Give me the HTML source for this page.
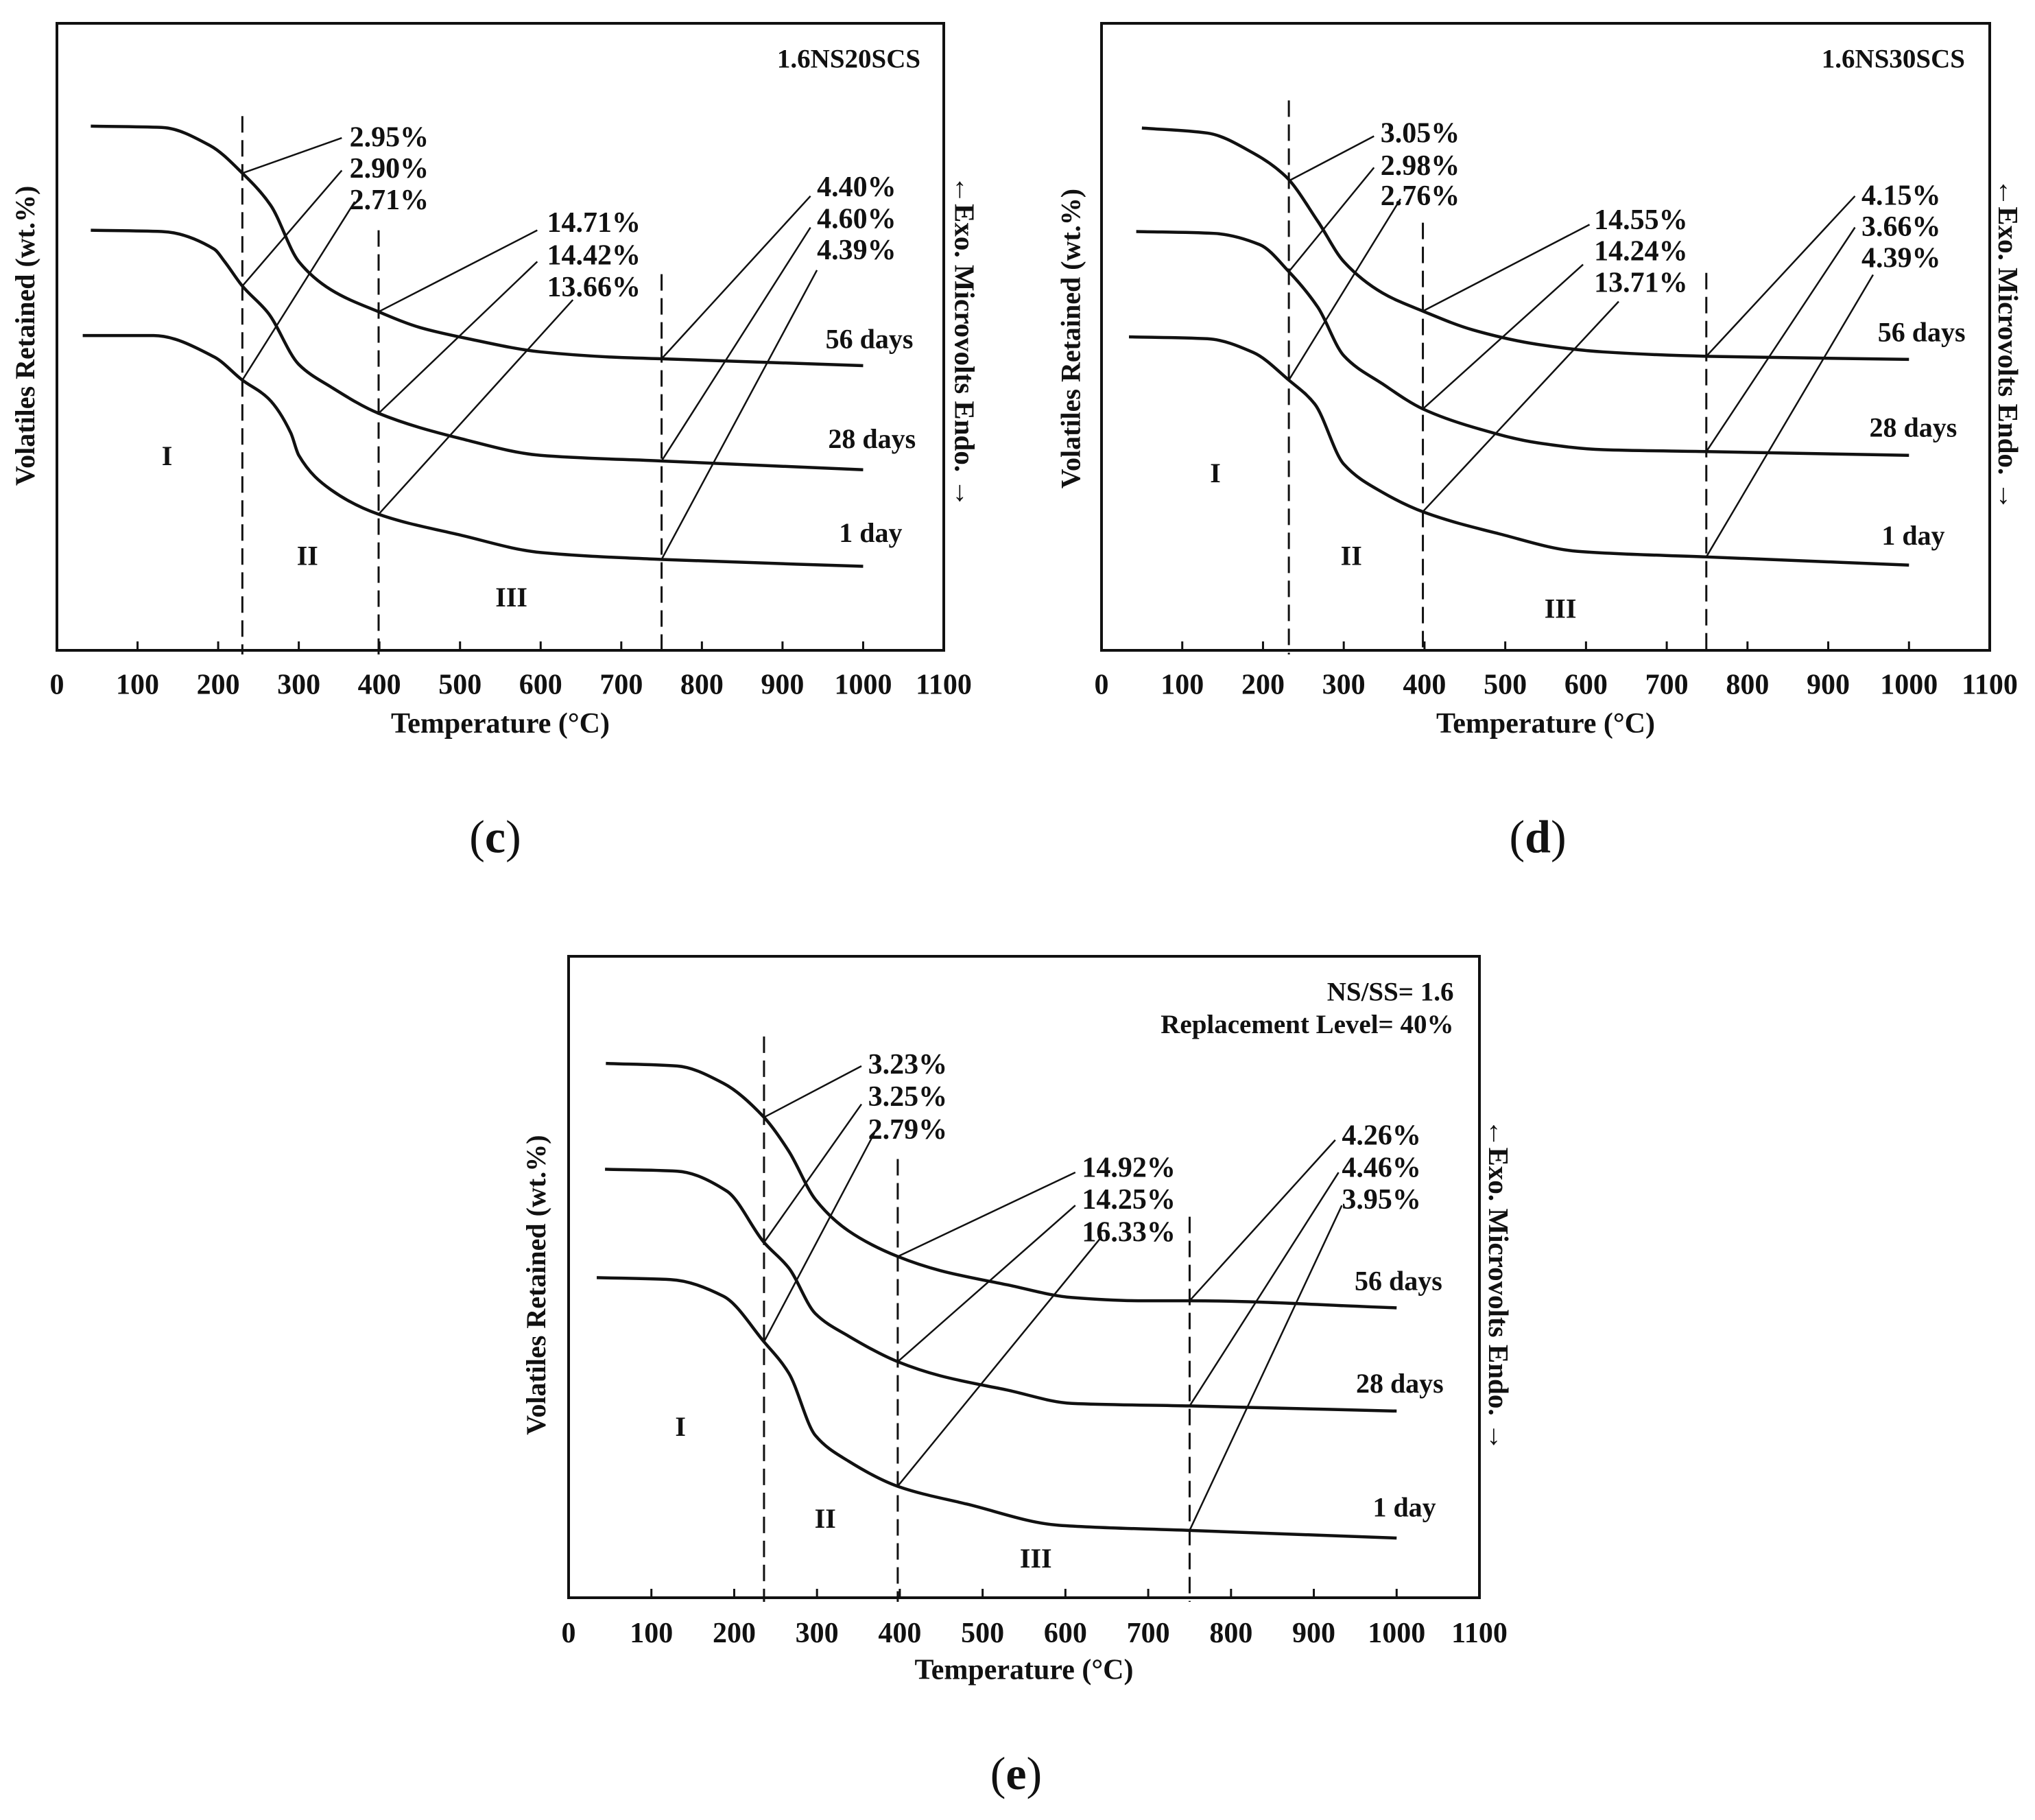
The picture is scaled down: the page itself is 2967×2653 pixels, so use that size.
<!DOCTYPE html>
<html><head><meta charset="utf-8"><style>
html,body{margin:0;padding:0;background:#fff;}
svg{display:block;}
text{font-family:"Liberation Serif",serif;font-weight:bold;fill:#111;}
</style></head><body>
<svg id="fig" width="2967" height="2653" viewBox="0 0 2967 2653" xmlns="http://www.w3.org/2000/svg"></svg>
<script>
// ---- Data (temperature in °C, signal as % of plot height) ----
const xTicks = [0,100,200,300,400,500,600,700,800,900,1000,1100];
const seriesNames = ["56 days","28 days","1 day"];
const boundaryTemps = {c:[230,399,750], d:[232,398,749], e:[236,397.5,750]};

const c_T56 = [42,130,190,230,265,300,340,399,450,510,600,700,750,1000];
const c_V56 = [83.6,83.4,80.5,76.1,71.0,62.0,57.5,54.0,51.5,49.7,47.6,46.7,46.5,45.4];
const c_T28 = [42,130,195,208,230,262,300,340,399,500,600,750,1000];
const c_V28 = [67.0,66.8,64.0,62.0,58.1,53.8,45.6,42.0,37.8,33.8,31.1,30.2,28.8];
const c_T1  = [32,120,195,230,262,290,300,340,399,500,600,750,1000];
const c_V1  = [50.2,50.2,46.8,43.1,40.2,34.7,31.1,25.6,21.7,18.4,15.6,14.5,13.4];

const d_T56 = [50,131,188,228,268,300,348,398,460,540,621,749,1000];
const d_V56 = [83.3,82.5,79.3,75.6,68.4,62.0,57.0,54.1,51.1,48.8,47.6,46.9,46.4];
const d_T28 = [43,139,196,232,268,300,348,398,460,540,621,749,1000];
const d_V28 = [66.8,66.5,64.7,60.4,54.7,47.0,42.5,38.5,35.6,33.1,32.0,31.7,31.1];
const d_T1  = [34,131,188,232,264,300,348,400,492,589,749,1000];
const d_V1  = [50.0,49.7,47.5,43.1,39.3,29.7,25.2,22.0,18.6,15.8,14.9,13.6];

const e_T56 = [45,131,187,236,266,298,338,397.5,449,529,608,688,750,1000];
const e_V56 = [83.3,82.9,80.2,74.9,69.6,62.1,57.2,53.2,51.0,48.8,46.8,46.3,46.3,45.2];
const e_T28 = [44,131,191,236,266,298,338,397.5,449,529,608,750,1000];
const e_V28 = [66.8,66.5,63.4,55.4,51.4,44.3,40.8,36.8,34.6,32.4,30.3,29.9,29.1];
const e_T1  = [34,123,187,236,266,298,338,399,481,592,750,1000];
const e_V1  = [49.9,49.6,47.0,39.9,35.0,25.3,21.3,17.3,14.6,11.3,10.5,9.3];

const c_pct = [["2.95%","2.90%","2.71%"],["14.71%","14.42%","13.66%"],["4.40%","4.60%","4.39%"]];
const d_pct = [["3.05%","2.98%","2.76%"],["14.55%","14.24%","13.71%"],["4.15%","3.66%","4.39%"]];
const e_pct = [["3.23%","3.25%","2.79%"],["14.92%","14.25%","16.33%"],["4.26%","4.46%","3.95%"]];

const NS="http://www.w3.org/2000/svg";
const fig=document.getElementById('fig');
function mk(tag,attrs,parent){const el=document.createElementNS(NS,tag);for(const k in attrs)el.setAttribute(k,attrs[k]);(parent||fig).appendChild(el);return el;}
function txt(s,x,y,fs,anchor,parent,name){const t=mk('text',{x:x,y:y,'font-size':fs,'text-anchor':anchor||'start'},parent);t.textContent=s;


return t;}
// monotone cubic (Fritsch-Carlson)
function smooth(pts){
  const n=pts.length, dx=[], m=[], t=new Array(n);
  for(let i=0;i<n-1;i++){dx[i]=pts[i+1][0]-pts[i][0];m[i]=(pts[i+1][1]-pts[i][1])/dx[i];}
  t[0]=m[0];t[n-1]=m[n-2];
  for(let i=1;i<n-1;i++){ if(m[i-1]*m[i]<=0)t[i]=0; else {const w1=2*dx[i]+dx[i-1],w2=dx[i]+2*dx[i-1];t[i]=(w1+w2)/(w1/m[i-1]+w2/m[i]);}}
  let d=`M${pts[0][0]},${pts[0][1]}`;
  for(let i=0;i<n-1;i++){const h=dx[i]/3;
    d+=` C${pts[i][0]+h},${pts[i][1]+t[i]*h} ${pts[i+1][0]-h},${pts[i+1][1]-t[i+1]*h} ${pts[i+1][0]},${pts[i+1][1]}`;}
  return d;}

const panels=[
 {id:'c',L:83,R:1376,T:34,B:948,ox:xd=>xd*0.9438,oy:yd=>34+(yd-42)*0.831,
  s:[[c_T56,c_V56],[c_T28,c_V28],[c_T1,c_V1]],pct:c_pct,bt:boundaryTemps.c,dashTop:[85.2,67,60],
  textPos:[[540,[240,295,350]],[845,[390,447,503]],[1262,[327,383,438]]],
  ends:[[[528,243],[528,300],[548,355]],[[830,405],[830,460],[885,527]],[[1252,345],[1252,400],[1262,475]]],
  labels:[[1343,595],[1347,770],[1345,935]],roman:[[258,800],[475,975],[790,1048]],
  title:['1.6NS20SCS'],titleX:1422,titleY:[103],ytx:38,yty:590,rtx:1490,rty:600,tickY:1200,axY:1268,cap:[765,1470]},
 {id:'d',L:1606,R:2901,T:34,B:948,ox:xd=>1487+xd*0.9438,oy:yd=>34+(yd-42)*0.831,
  s:[[d_T56,d_V56],[d_T28,d_V28],[d_T1,d_V1]],pct:d_pct,bt:boundaryTemps.d,dashTop:[87.7,68.2,60.2],
  textPos:[[557,[233,290,343]],[887,[385,440,495]],[1300,[342,397,452]]],
  ends:[[[547,240],[547,295],[588,350]],[[880,395],[870,465],[925,530]],[[1290,345],[1290,400],[1318,483]]],
  labels:[[1393,583],[1380,750],[1380,940]],roman:[[302,830],[512,975],[835,1068]],
  title:['1.6NS30SCS'],titleX:1460,titleY:[103],ytx:78,yty:595,rtx:1527,rty:605,tickY:1200,axY:1268,cap:[800,1470]},
 {id:'e',L:829,R:2157,T:1394,B:2329,ox:xd=>829+(xd-135)*0.9595,oy:yd=>1394+(yd-52)*0.829,
  s:[[e_T56,e_V56],[e_T28,e_V28],[e_T1,e_V1]],pct:e_pct,bt:boundaryTemps.e,dashTop:[87.5,68.4,59.4],
  textPos:[[590,[240,297,355]],[915,[422,478,535]],[1310,[365,422,478]]],
  ends:[[[580,245],[580,312],[600,362]],[[905,432],[905,490],[945,545]],[[1300,375],[1305,432],[1310,490]]],
  labels:[[1396,622],[1398,802],[1405,1020]],roman:[[305,878],[525,1040],[845,1110]],
  title:['NS/SS= 1.6','Replacement Level= 40%'],titleX:1480,titleY:[113,170],ytx:85,yty:630,rtx:1548,rty:630,tickY:1240,axY:1305,cap:[815,1490]}
];

panels.forEach(p=>{
  const g=mk('g',{});
  
  
  const x=t=>p.L+t/1100*(p.R-p.L), y=v=>p.B-v/100*(p.B-p.T);
  const fr=mk('rect',{x:p.L,y:p.T,width:p.R-p.L,height:p.B-p.T,fill:'none',stroke:'#111','stroke-width':4},g);
  
  
  xTicks.forEach(t=>{
    if(t>0&&t<1100){const tk=mk('line',{x1:x(t),x2:x(t),y1:p.B,y2:p.B-13,stroke:'#111','stroke-width':3},g);
      
      }
    txt(String(t),x(t),p.oy(p.tickY)+15,42,'middle',g,'x-tick-label');
  });
  txt('Temperature (°C)',(p.L+p.R)/2,p.oy(p.axY)+15,42,'middle',g,'x-axis-title');
  const yt=txt('Volatiles Retained (wt.%)',0,0,40,'middle',g,'y-axis-title');
  yt.setAttribute('transform',`translate(${p.ox(p.ytx)+14},${p.oy(p.yty)}) rotate(-90)`);
  const rt=txt('←Exo. Microvolts Endo. →',0,0,41,'middle',g,'right-axis-title');
  rt.setAttribute('transform',`translate(${p.ox(p.rtx)-14},${p.oy(p.rty)}) rotate(90)`);
  p.title.forEach((s,i)=>txt(s,p.ox(p.titleX),p.oy(p.titleY[i])+14,39,'end',g,'panel-title'));
  p.bt.forEach((t,i)=>{const l=mk('line',{x1:x(t),x2:x(t),y1:y(p.dashTop[i]),y2:p.B+6,stroke:'#111','stroke-width':3,'stroke-dasharray':'24,11'},g);
    
    });
  p.s.forEach((sv,k)=>{const pts=sv[0].map((t,i)=>[x(t),y(sv[1][i])]);
    const path=mk('path',{d:smooth(pts),fill:'none',stroke:'#111','stroke-width':4.5,'stroke-linejoin':'round'},g);
    
    
    txt(seriesNames[k],p.ox(p.labels[k][0]),p.oy(p.labels[k][1])+14,40,'middle',g,'series-label');
  });
  const interp=(T,V,t)=>{for(let i=0;i<T.length-1;i++){if(t>=T[i]&&t<=T[i+1])return V[i]+(V[i+1]-V[i])*(t-T[i])/(T[i+1]-T[i]);}return V[V.length-1];};
  p.bt.forEach((bt,gi)=>{
    p.s.forEach((sv,k)=>{
      const v=interp(sv[0],sv[1],bt);
      const e=p.ends[gi][k];
      const l=mk('line',{x1:x(bt),y1:y(v),x2:p.ox(e[0]),y2:p.oy(e[1]),stroke:'#111','stroke-width':2.5},g);
      
      
      txt(p.pct[gi][k],p.ox(p.textPos[gi][0]),p.oy(p.textPos[gi][1][k])+15,42,'start',g,'mass-loss-label');
    });
  });
  ['I','II','III'].forEach((r,i)=>txt(r,p.ox(p.roman[i][0]),p.oy(p.roman[i][1])+14,40,'middle',g,'stage-label'));
  const cap=mk('text',{x:p.ox(p.cap[0]),y:p.oy(p.cap[1])+22,'font-size':68,'text-anchor':'middle'},g);
  
  
  cap.innerHTML=`<tspan font-weight="normal">(</tspan>${p.id}<tspan font-weight="normal">)</tspan>`;
});
</script>
</body></html>
